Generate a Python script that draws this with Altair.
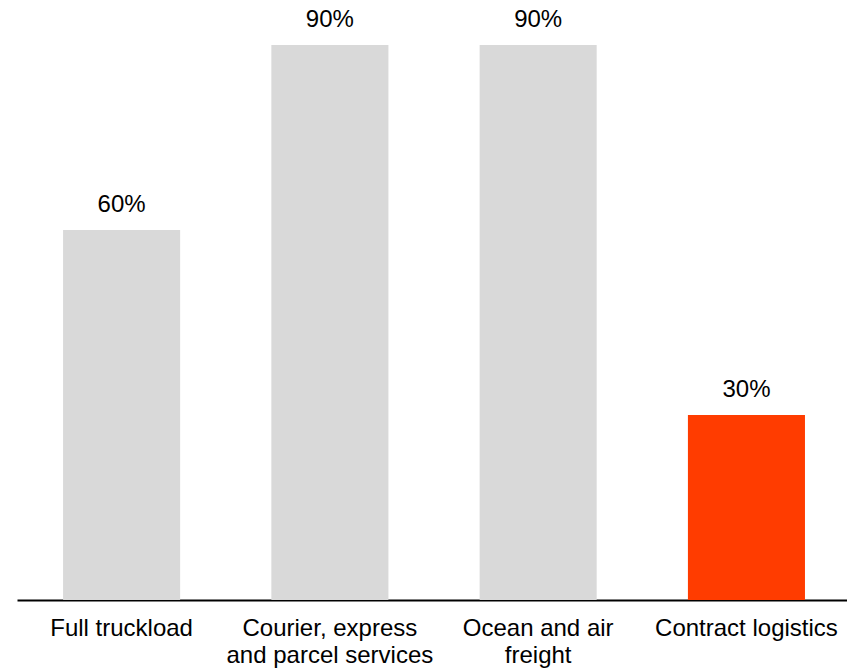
import altair as alt
import pandas as pd

categories = ["Full truckload", "Courier, express\nand parcel services", "Ocean and air\nfreight", "Contract logistics"]
values = [60, 90, 90, 30]
labels = ["60%", "90%", "90%", "30%"]
colors = ["#D9D9D9", "#D9D9D9", "#D9D9D9", "#FF3C00"]

df = pd.DataFrame({"category": categories, "value": values, "label": labels, "color": colors})

FONT = "Arial, Liberation Sans, sans-serif"

x = alt.X(
    "category:N",
    sort=categories,
    scale=alt.Scale(paddingInner=0.438, paddingOuter=0.2115, align=0.523),
    axis=alt.Axis(
        title=None,
        labelAngle=0,
        ticks=False,
        domainColor="#000000",
        domainWidth=2,
        labelColor="#000000",
        labelFont=FONT,
        labelFontSize=24,
        labelLineHeight=27,
        labelPadding=16,
        labelLimit=0,
        labelExpr="split(datum.label, '\\n')",
    ),
)
y = alt.Y("value:Q", scale=alt.Scale(domain=[0, 96]), axis=None)

bars = alt.Chart(df).mark_bar().encode(
    x=x, y=y, color=alt.Color("color:N", scale=None)
)
text = alt.Chart(df).mark_text(
    baseline="alphabetic", dy=-18, fontSize=24, font=FONT, color="#000000"
).encode(x=x, y=y, text="label:N")

chart = (
    alt.layer(bars, text)
    .properties(
        width=830,
        height=592,
        padding={"left": 9, "top": 0, "right": 0, "bottom": 68},
        autosize=alt.AutoSizeParams(type="none"),
    )
    .configure_view(stroke=None)
)

chart.save("out.html", embed_options={"renderer": "svg", "actions": False})
